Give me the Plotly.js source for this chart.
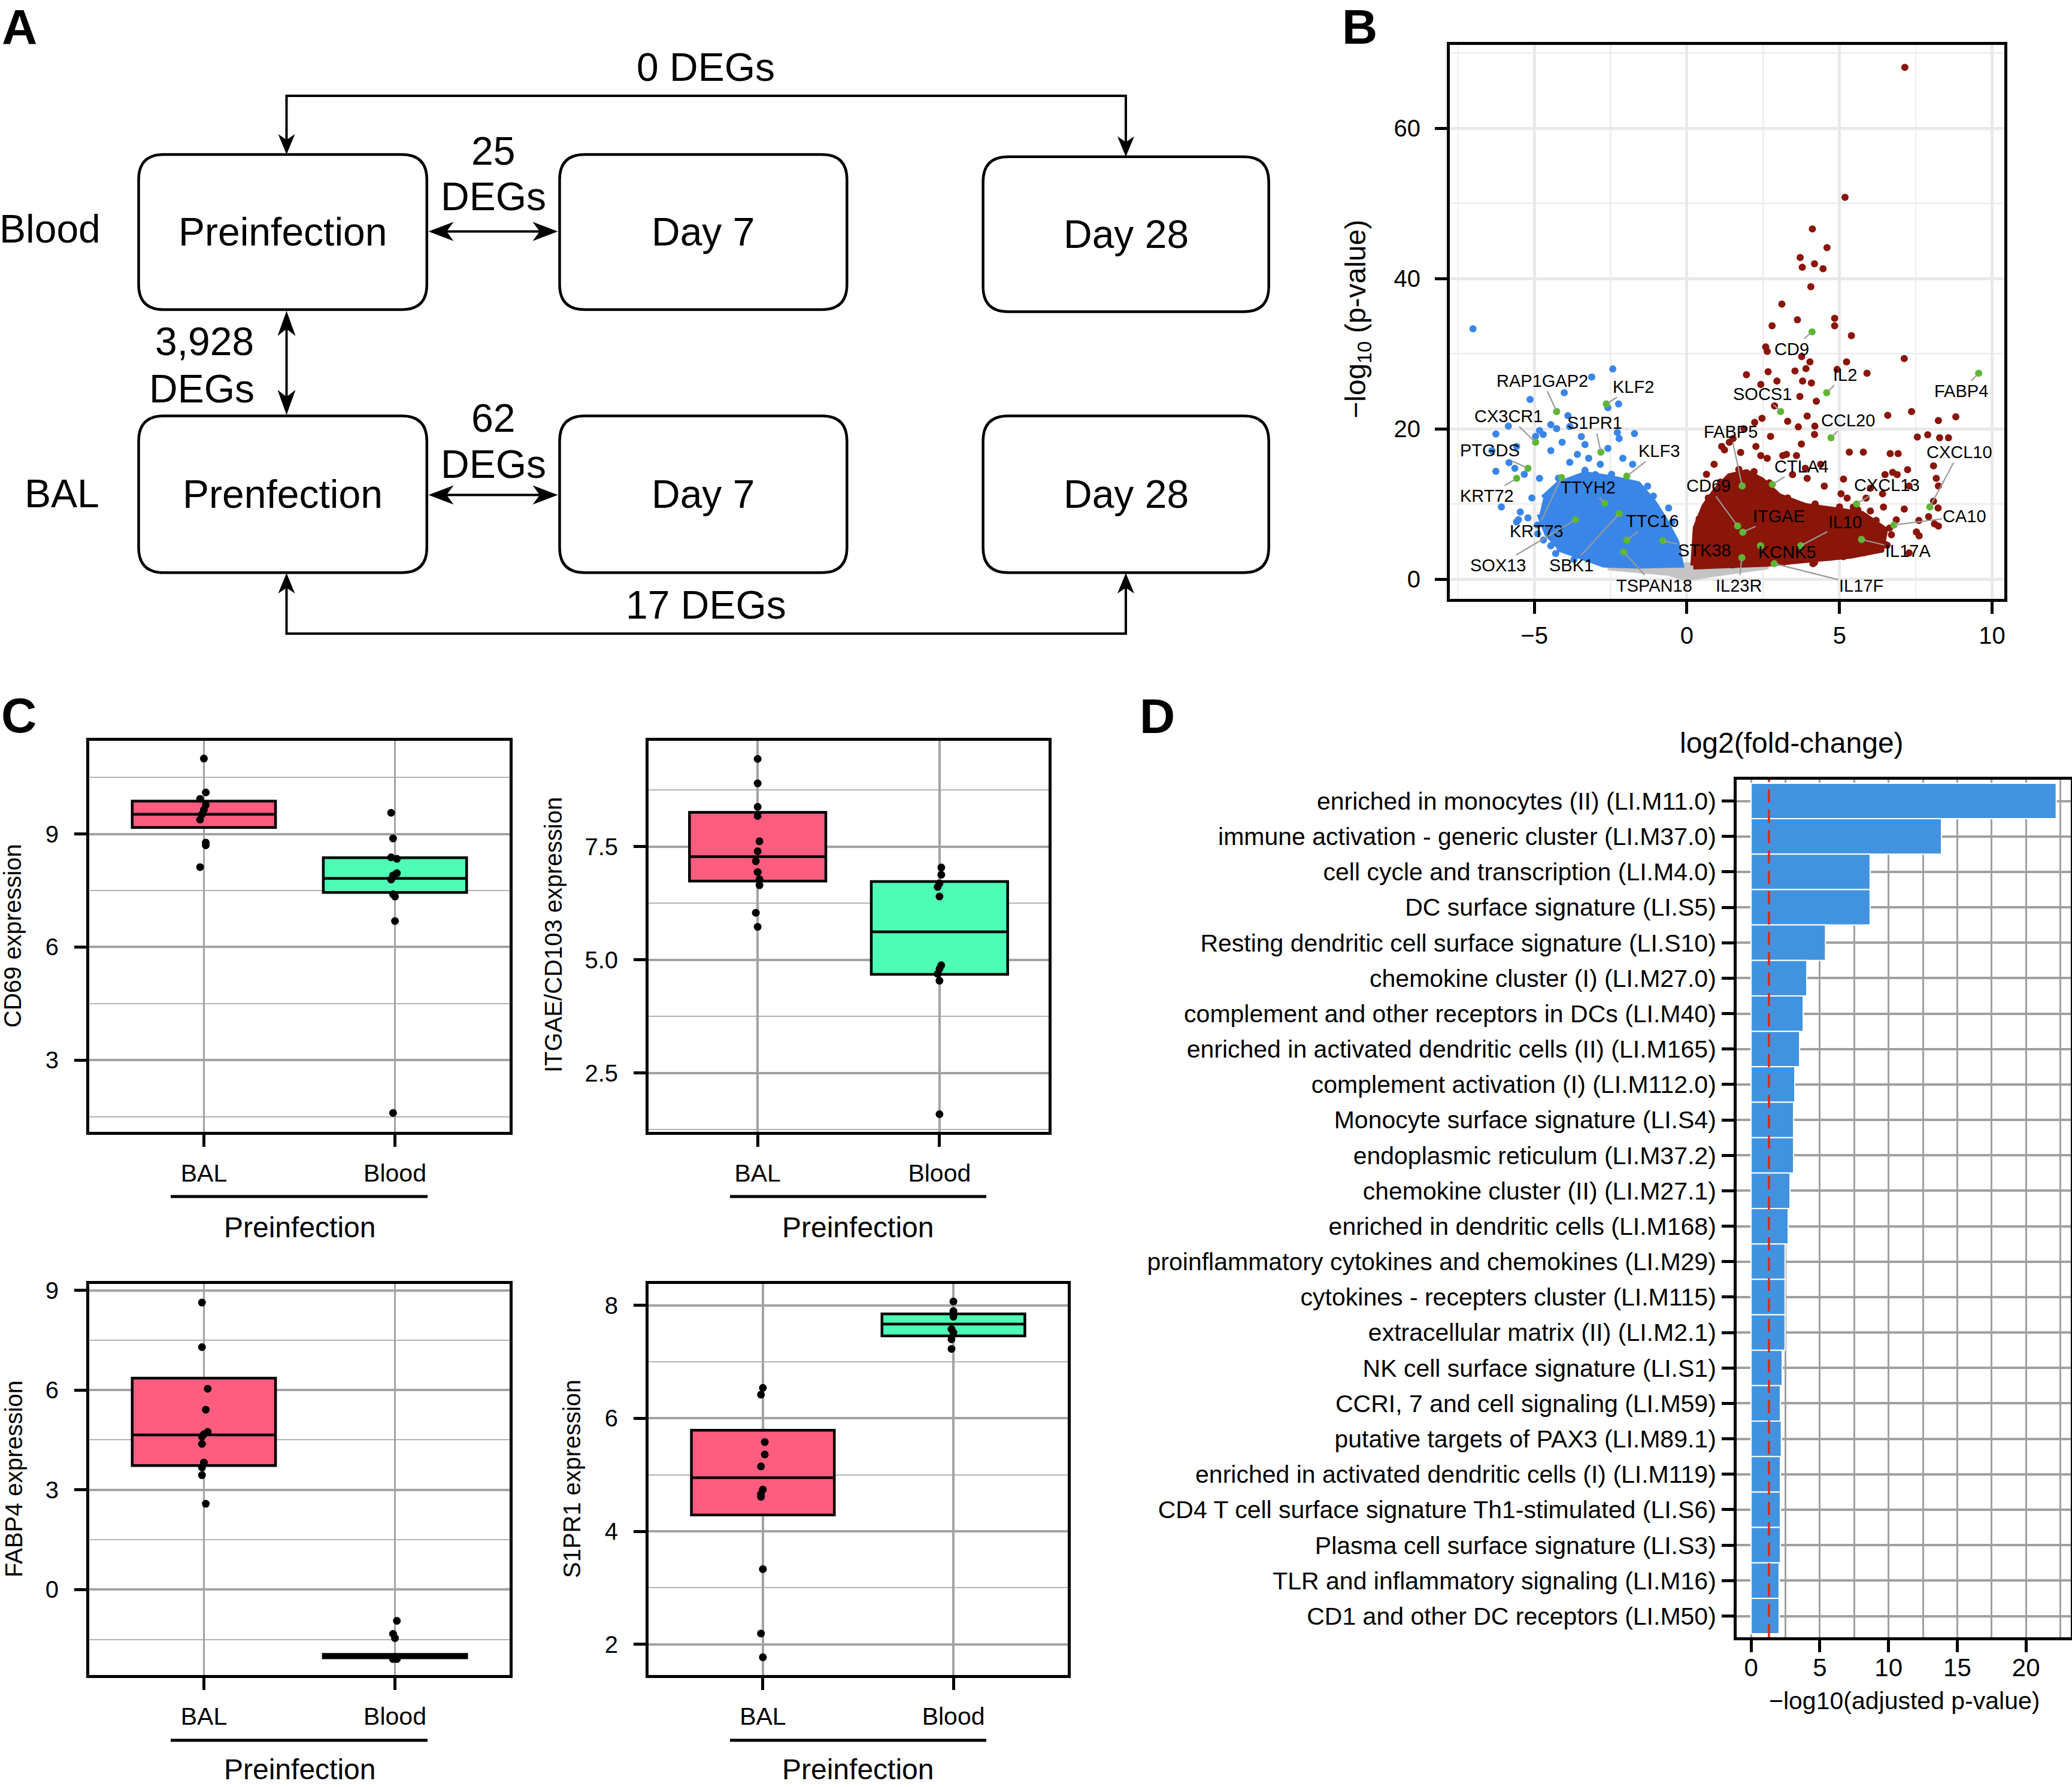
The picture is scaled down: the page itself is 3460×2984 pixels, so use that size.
<!DOCTYPE html>
<html><head><meta charset="utf-8">
<script src="https://cdn.plot.ly/plotly-3.0.1.min.js"></script>
<style>html,body{margin:0;padding:0;background:#fff}#chart{width:3460px;height:2984px}</style>
</head><body><div id="chart"></div>
<script>
// ---------------- DATA ----------------
// Panel A (flow diagram)
const rowLabels = ['Blood', 'BAL'];
const boxTexts = ['Preinfection', 'Day 7', 'Day 28', 'Prenfection', 'Day 7', 'Day 28'];
const degTop = '0 DEGs';
const degBlood = ['25', 'DEGs'];
const degBetween = ['3,928', 'DEGs'];
const degBal = ['62', 'DEGs'];
const degBottom = '17 DEGs';

// Panel B (volcano): log2 fold change (x) and -log10 p (y)
const blueX = [-7.01,-2.43,-3.12,-4.02,-5.14,-2.24,-2.59,-3.90,-4.46,-5.85,-6.26,-4.83,-4.71,-4.96,-4.27,-3.84,-3.46,-2.28,-2.22,-1.72,-2.59,-3.34,-4.09,-4.46,-3.59,-5.58,-6.39,-5.83,-6.26,-5.64,-5.33,-4.83,-6.08,-5.21,-5.52,-4.46,-4.15,-5.46,-5.08,-4.46,-3.22,-3.84,-2.84,-2.10,-1.78,-2.47,-1.66,-1.29,-1.10,-0.60,-0.48,-3.34,-3.65,-4.21,-2.84,-3.22,-4.52,-4.89,-5.58,
  -4.3,-3.9,-3.0,-2.1,-1.5,-1.0,-0.7,-0.4,-4.6,-4.9,-4.7,-4.3,-3.7,-3.2,-2.6,-1.9];
const blueY = [33.3,27.96,26.9,24.8,23.9,23.3,22.8,21.75,20.56,20.35,19.3,19.77,19.24,18.98,20.03,20.3,18.97,19.5,18.7,19.37,17.4,17.9,18.2,17.1,16.6,17.65,17.1,15.5,14.35,14.75,13.95,13.4,9.6,8.14,7.9,4.44,4.04,8.93,10.8,11.3,16.07,15.54,15.28,16.07,15.28,13.95,12.37,12.37,11.05,9.46,7.61,14.48,12.9,13.42,13.42,11.58,7.35,6.03,7.61,
  12.0,13.0,13.9,13.0,11.5,9.5,7.0,4.0,9.8,7.2,5.2,3.4,2.6,10.5,11.9,10.2];
const blueCoreX = [-4.71,-4.21,-3.34,-2.47,-1.60,-1.10,-0.73,-0.35,-0.20,-1.60,-2.72,-3.34,-4.09,-4.58,-4.83];
const blueCoreY = [10.78,12.63,13.95,13.42,12.63,10.25,7.88,4.97,1.93,1.80,1.93,2.85,3.91,6.03,8.67];
const redX = [7.14,5.18,4.11,4.59,3.71,4.18,3.78,4.46,4.06,3.11,4.84,3.62,4.84,2.79,5.39,2.58,2.63,3.76,4.03,7.12,5.23,4.92,5.90,3.54,3.90,2.66,1.95,2.95,3.79,4.08,2.42,4.24,7.36,6.58,3.94,8.24,8.81,4.19,3.65,2.46,2.22,3.30,2.87,3.70,7.55,7.89,8.28,8.57,5.32,5.78,6.66,6.92,7.23,8.08,8.17,8.24,8.08,7.60,8.24,7.92,6.49,6.89,6.01,6.41,7.12,6.01,5.05,4.41,3.94,3.46,3.14,2.42,3.75,4.18,1.39,1.23,1.87,2.74,3.59,5.13,7.28,5.45,6.44,6.64,7.52,6.56,7.28,5.13,4.18,5.87,6.74,4.50,5.25,7.61,6.86,8.11,8.23,6.12,5.12,4.13,1.14,1.51,1.76,2.26,2.63,3.26,3.88,4.38,0.89,0.64,
  0.3,0.4,0.7,1.1,1.7,2.2,2.7,3.3,4.2,5.0,5.6,6.2,6.7,6.5,5.8,4.7,3.2,1.5];
const redY = [68.1,50.8,46.6,44.1,42.8,41.95,41.5,41.3,38.9,36.6,34.7,34.5,33.7,33.7,32.4,30.9,30.3,29.6,28.9,29.35,28.9,27.9,27.4,27.7,28.0,27.6,27.2,26.35,26.35,26.1,25.9,23.66,22.3,21.8,21.7,21.1,21.6,20.35,20.25,21.4,20.86,21.0,23.05,24.3,18.9,19.2,18.8,18.8,16.9,16.9,16.7,16.7,14.56,15.07,13.4,12.4,10.35,7.8,7.05,8.3,13.9,13.9,12.1,11.36,9.33,9.07,11.36,8.82,13.4,13.9,16.44,16.44,17.97,19.24,18.2,17.2,20.0,18.98,16.44,13.3,12.4,9.58,9.58,6.79,6.28,4.5,3.48,2.98,2.21,10.78,14.2,12.37,10.78,5.76,7.88,7.35,9.46,4.18,3.65,2.06,17.65,18.71,16.86,17.65,16.07,16.6,14.75,15.28,15.28,13.95,
  4.5,8.0,10.8,12.9,14.6,14.3,12.8,10.8,10.0,9.6,9.2,7.8,5.9,4.6,3.5,2.9,2.3,1.9];
const redCoreX = [0.21,0.29,0.58,0.95,1.39,1.95,2.45,3.01,3.88,4.75,5.74,6.49,6.37,5.37,3.88,2.63,0.21];
const redCoreY = [1.80,6.82,9.73,11.84,13.69,14.22,13.16,11.05,9.73,9.2,8.67,6.55,3.91,3.12,2.59,2.06,1.67];
const grayX = [-2.6,-0.2,0.2,2.6,2.6,0.6,0.0,-0.6,-2.6];
const grayY = [1.9,2.0,1.9,2.3,1.6,0.45,0.0,0.75,1.5];
const genes = ['RAP1GAP2','KLF2','CX3CR1','S1PR1','PTGDS','KLF3','KRT72','TTYH2','KRT73','TTC16','SOX13','SBK1','STK38','TSPAN18','IL23R','IL17F','KCNK5','ITGAE','IL10','IL17A','CA10','CXCL13','CXCL10','CTLA4','CD69','FABP5','CCL20','FABP4','SOCS1','IL2','CD9'];
const geneX = [-4.27,-2.64,-4.96,-2.82,-5.21,-1.97,-5.58,-2.69,-4.11,-1.97,-3.65,-2.22,-0.79,-2.07,1.80,2.86,2.41,1.83,3.73,5.72,6.78,5.56,7.96,2.80,1.66,1.81,4.72,9.56,3.07,4.58,4.10];
const geneY = [22.3,23.3,18.2,16.9,14.75,13.7,13.4,10.1,13.5,5.2,7.9,8.7,5.1,3.6,2.85,2.06,4.44,6.24,4.44,5.28,7.2,10.0,9.6,12.6,7.08,12.4,18.8,27.4,22.3,24.8,32.9];
const geneLabelX = [-4.73,-1.75,-5.85,-3.03,-6.45,-0.91,-6.55,-3.24,-4.93,-1.12,-6.18,-3.78,0.58,-1.07,1.70,5.72,3.29,3.01,5.18,7.24,9.10,6.55,8.92,3.75,0.70,1.43,5.28,8.98,2.48,5.18,3.44];
const geneLabelY = [26.4,25.6,21.7,20.8,17.1,17.05,11.05,12.2,6.4,7.75,1.8,1.8,3.86,-0.85,-0.85,-0.85,3.59,8.4,7.56,3.78,8.4,12.5,16.9,15.0,12.4,19.6,21.1,25.0,24.6,27.2,30.6];

// Panel C (box plots)
const groups = ['BAL', 'Blood'];
const cd69Box = {q1:[9.17,7.45], med:[9.52,7.82], q3:[9.87,8.37]};
const cd69BalY = [11.0,10.1,9.93,9.77,9.64,9.52,9.38,8.77,8.70,8.12];
const cd69BalX = [1.0,1.01,0.98,1.01,1.0,0.99,0.98,1.01,1.01,0.98];
const cd69BloodY = [9.56,8.88,8.38,8.34,7.96,7.90,7.79,7.40,7.34,6.69,1.60];
const cd69BloodX = [1.98,1.99,1.98,2.01,2.01,1.99,1.98,1.99,2.0,2.0,1.99];
const itgaeBox = {q1:[6.74,4.68], med:[7.28,5.62], q3:[8.26,6.73]};
const itgaeBalY = [9.44,8.90,8.38,8.18,7.62,7.40,7.18,6.94,6.78,6.65,6.04,5.73];
const itgaeBalX = [1.0,1.0,1.0,1.0,1.01,1.0,0.99,1.0,1.01,1.01,0.99,1.0];
const itgaeBloodY = [7.04,6.88,6.69,6.61,6.40,4.88,4.80,4.69,4.54,1.59];
const itgaeBloodX = [2.01,2.01,2.0,1.99,2.0,2.01,2.0,1.99,2.0,2.0];
const fabp4Box = {q1:[3.73,-2.05], med:[4.65,-2.0], q3:[6.36,-1.95]};
const fabp4BalY = [8.63,7.29,6.04,5.41,4.74,4.67,4.60,4.38,3.82,3.67,3.44,2.58];
const fabp4BalX = [0.99,0.99,1.02,1.01,1.02,1.0,0.99,0.99,1.0,0.99,0.99,1.01];
const fabp4BloodY = [-0.94,-1.33,-1.46,-2.09,-2.09,-2.06,-2.03];
const fabp4BloodX = [2.01,1.99,2.0,1.99,2.01,2.0,2.0];
const s1pr1Box = {q1:[4.29,7.46], med:[4.95,7.67], q3:[5.79,7.85]};
const s1pr1BalY = [6.54,6.42,5.58,5.36,5.15,4.74,4.66,4.61,3.33,2.19,1.77];
const s1pr1BalX = [1.0,0.99,1.01,1.01,0.99,1.0,0.99,0.99,1.0,0.99,1.0];
const s1pr1BloodY = [8.07,7.90,7.80,7.58,7.52,7.40,7.23];
const s1pr1BloodX = [2.0,2.0,2.0,1.99,2.0,1.99,1.99];

// Panel D (modules)
const modules = ['enriched in monocytes (II) (LI.M11.0)','immune activation - generic cluster (LI.M37.0)','cell cycle and transcription (LI.M4.0)','DC surface signature (LI.S5)','Resting dendritic cell surface signature (LI.S10)','chemokine cluster (I) (LI.M27.0)','complement and other receptors in DCs (LI.M40)','enriched in activated dendritic cells (II) (LI.M165)','complement activation (I) (LI.M112.0)','Monocyte surface signature (LI.S4)','endoplasmic reticulum (LI.M37.2)','chemokine cluster (II) (LI.M27.1)','enriched in dendritic cells (LI.M168)','proinflammatory cytokines and chemokines (LI.M29)','cytokines - recepters cluster (LI.M115)','extracellular matrix (II) (LI.M2.1)','NK cell surface signature (LI.S1)','CCRI, 7 and cell signaling (LI.M59)','putative targets of PAX3 (LI.M89.1)','enriched in activated dendritic cells (I) (LI.M119)','CD4 T cell surface signature Th1-stimulated (LI.S6)','Plasma cell surface signature (LI.S3)','TLR and inflammatory signaling (LI.M16)','CD1 and other DC receptors (LI.M50)'];
const moduleScore = [22.2,13.85,8.66,8.66,5.41,4.05,3.79,3.53,3.18,3.09,3.09,2.83,2.70,2.47,2.47,2.47,2.26,2.13,2.20,2.13,2.13,2.13,2.04,2.04];
const sigThreshold = 1.3;

// ---------------- LAYOUT HELPERS ----------------
const W = 3460, H = 2984;
const FONT = 'Liberation Sans, Arial, Helvetica, sans-serif';
const fx = x => x / W, fy = y => 1 - y / H;
const domX = (a, b) => [a / W, b / W];
const domY = (t, b) => [1 - b / H, 1 - t / H];
const P = (x, y) => fx(x).toFixed(5) + ',' + fy(y).toFixed(5);
function rrect(x0, y0, x1, y1, r) {
  return 'M' + P(x0 + r, y0) + ' L' + P(x1 - r, y0) + ' Q' + P(x1, y0) + ' ' + P(x1, y0 + r) +
    ' L' + P(x1, y1 - r) + ' Q' + P(x1, y1) + ' ' + P(x1 - r, y1) + ' L' + P(x0 + r, y1) +
    ' Q' + P(x0, y1) + ' ' + P(x0, y1 - r) + ' L' + P(x0, y0 + r) + ' Q' + P(x0, y0) + ' ' + P(x0 + r, y0) + ' Z';
}
function head(tx, ty, dx, dy, L, w) {
  const bx = tx - dx * L, by = ty - dy * L, nx = tx - dx * L * 0.72, ny = ty - dy * L * 0.72;
  const px = -dy, py = dx;
  return 'M' + P(tx, ty) + ' L' + P(bx + px * w, by + py * w) + ' L' + P(nx, ny) + ' L' + P(bx - px * w, by - py * w) + ' Z';
}
function pathShape(d, fill, lw) {
  return {type: 'path', xref: 'paper', yref: 'paper', path: d, fillcolor: fill || 'rgba(0,0,0,0)',
    line: {color: '#000', width: lw === undefined ? 4 : lw}, layer: 'above'};
}
function lineShape(x0, y0, x1, y1, w) {
  return {type: 'line', xref: 'paper', yref: 'paper', x0: fx(x0), y0: fy(y0), x1: fx(x1), y1: fy(y1),
    line: {color: '#000', width: w || 4}, layer: 'above'};
}
function txt(x, y, t, size, extra) {
  return Object.assign({xref: 'paper', yref: 'paper', x: fx(x), y: fy(y), text: t, showarrow: false,
    xanchor: 'center', yanchor: 'middle', font: {family: FONT, size: size, color: '#000'}}, extra || {});
}

// ---------------- SHAPES / ANNOTATIONS ----------------
const shapes = [];
const annotations = [];
const boxGeom = [[231.5,258,712.8,517],[934.5,258,1414.3,517],[1641.6,261.7,2118.7,520.5],
                 [231.5,694.5,712.8,956.2],[934.5,694.5,1414.3,956.2],[1641.6,694.5,2118.7,956.2]];
boxGeom.forEach((g, i) => {
  shapes.push(pathShape(rrect(g[0], g[1], g[2], g[3], 42), 'rgba(0,0,0,0)', 4.5));
  annotations.push(txt((g[0] + g[2]) / 2, (g[1] + g[3]) / 2, boxTexts[i], 66));
});
annotations.push(txt(170, 382, rowLabels[0], 66, {xanchor: 'right'}));
annotations.push(txt(168, 824, rowLabels[1], 66, {xanchor: 'right'}));
// connectors
shapes.push(pathShape('M' + P(478.5, 245) + ' L' + P(478.5, 160) + ' L' + P(1880, 160) + ' L' + P(1880, 248), null, 4));
shapes.push(pathShape(head(478.5, 258, 0, 1, 34, 14), '#000', 0));
shapes.push(pathShape(head(1880, 261.7, 0, 1, 34, 14), '#000', 0));
shapes.push(pathShape('M' + P(478.5, 970) + ' L' + P(478.5, 1058) + ' L' + P(1880, 1058) + ' L' + P(1880, 970), null, 4));
shapes.push(pathShape(head(478.5, 957, 0, -1, 34, 14), '#000', 0));
shapes.push(pathShape(head(1880, 957, 0, -1, 34, 14), '#000', 0));
[386.5, 826.4].forEach(y => {
  shapes.push(lineShape(725, y, 922, y, 4));
  shapes.push(pathShape(head(715.5, y, -1, 0, 42, 16), '#000', 0));
  shapes.push(pathShape(head(931.5, y, 1, 0, 42, 16), '#000', 0));
});
shapes.push(lineShape(478.5, 530, 478.5, 682, 4));
shapes.push(pathShape(head(478.5, 519, 0, -1, 42, 15), '#000', 0));
shapes.push(pathShape(head(478.5, 693, 0, 1, 42, 15), '#000', 0));
annotations.push(txt(1178.6, 112, degTop, 66));
annotations.push(txt(823.6, 252.5, degBlood[0], 66));
annotations.push(txt(823.6, 328.3, degBlood[1], 66));
annotations.push(txt(341, 569.6, degBetween[0], 66));
annotations.push(txt(336.7, 649, degBetween[1], 66));
annotations.push(txt(823.6, 698, degBal[0], 66));
annotations.push(txt(823.6, 775, degBal[1], 66));
annotations.push(txt(1178.6, 1010, degBottom, 66));

// panel letters
[['A', 32, 44], ['B', 2270, 44], ['C', 31, 1194], ['D', 1932, 1195]].forEach(l =>
  annotations.push(txt(l[1], l[2], '<b>' + l[0] + '</b>', 82)));

// axis titles
annotations.push(txt(2267, 533, '\u2212log<sub>10</sub> (p-value)', 48, {textangle: -90}));
annotations.push(txt(21, 1563, 'CD69 expression', 40, {textangle: -90}));
annotations.push(txt(924, 1561, 'ITGAE/CD103 expression', 40, {textangle: -90}));
annotations.push(txt(23, 2470, 'FABP4 expression', 40, {textangle: -90}));
annotations.push(txt(955, 2470, 'S1PR1 expression', 40, {textangle: -90}));
[[500, 2049, 285, 714, 1998], [1432, 2049, 1219, 1647, 1998], [500, 2954, 285, 714, 2906], [1432, 2954, 1219, 1647, 2906]].forEach(p => {
  annotations.push(txt(p[0], p[1], 'Preinfection', 48));
  shapes.push(lineShape(p[2], p[4], p[3], p[4], 5));
});
annotations.push(txt(2992, 1240, 'log2(fold-change)', 48));
annotations.push(txt(3180, 2840, '\u2212log10(adjusted p-value)', 41));

// volcano gene labels
genes.forEach((g, i) => {
  annotations.push({xref: 'x', yref: 'y', axref: 'x', ayref: 'y', x: geneX[i], y: geneY[i],
    ax: geneLabelX[i], ay: geneLabelY[i], text: g, showarrow: true, arrowhead: 0, arrowwidth: 2.2,
    arrowcolor: '#9a9a9a', standoff: 2, font: {family: FONT, size: 29, color: '#000'}});
});

// significance line in D
shapes.push({type: 'line', xref: 'x6', yref: 'y6 domain', x0: sigThreshold, x1: sigThreshold, y0: 0, y1: 1,
  line: {color: '#e3241b', width: 3.5, dash: '22px,12px'}, layer: 'above'});

// ---------------- TRACES ----------------
const BLUE = '#3a86e8', RED = '#8a1509', GREEN = '#5cb82e', GRAY = '#c4c4c4';
const PINK = '#fe5d7f', AQUA = '#4dfdb5';
const traces = [];
traces.push({type: 'scatter', x: grayX, y: grayY, fill: 'toself', fillcolor: GRAY, mode: 'lines',
  line: {color: GRAY, width: 8}, hoverinfo: 'skip', xaxis: 'x', yaxis: 'y'});
traces.push({type: 'scatter', x: blueCoreX, y: blueCoreY, fill: 'toself', fillcolor: BLUE, mode: 'lines',
  line: {color: BLUE, width: 10}, hoverinfo: 'skip', xaxis: 'x', yaxis: 'y'});
traces.push({type: 'scatter', x: redCoreX, y: redCoreY, fill: 'toself', fillcolor: RED, mode: 'lines',
  line: {color: RED, width: 10}, hoverinfo: 'skip', xaxis: 'x', yaxis: 'y'});
traces.push({type: 'scatter', x: blueX, y: blueY, mode: 'markers', marker: {color: BLUE, size: 12},
  hoverinfo: 'skip', xaxis: 'x', yaxis: 'y'});
traces.push({type: 'scatter', x: redX, y: redY, mode: 'markers', marker: {color: RED, size: 12},
  hoverinfo: 'skip', xaxis: 'x', yaxis: 'y'});
traces.push({type: 'scatter', x: geneX, y: geneY, mode: 'markers', marker: {color: GREEN, size: 12},
  hoverinfo: 'skip', xaxis: 'x', yaxis: 'y'});

function boxes(stats, ax) {
  [0, 1].forEach(i => {
    traces.push({type: 'box', x: [i + 1], q1: [stats.q1[i]], median: [stats.med[i]], q3: [stats.q3[i]],
      lowerfence: [stats.q1[i]], upperfence: [stats.q3[i]], width: 0.75, boxpoints: false,
      fillcolor: i === 0 ? PINK : AQUA, line: {color: '#000', width: 4.5}, whiskerwidth: 0,
      hoverinfo: 'skip', xaxis: 'x' + ax, yaxis: 'y' + ax});
  });
}
function dots(xs, ys, ax) {
  traces.push({type: 'scatter', x: xs, y: ys, mode: 'markers', marker: {color: '#000', size: 13},
    hoverinfo: 'skip', xaxis: 'x' + ax, yaxis: 'y' + ax});
}
boxes(cd69Box, 2); dots(cd69BalX, cd69BalY, 2); dots(cd69BloodX, cd69BloodY, 2);
boxes(itgaeBox, 3); dots(itgaeBalX, itgaeBalY, 3); dots(itgaeBloodX, itgaeBloodY, 3);
boxes(fabp4Box, 4); dots(fabp4BalX, fabp4BalY, 4); dots(fabp4BloodX, fabp4BloodY, 4);
boxes(s1pr1Box, 5); dots(s1pr1BalX, s1pr1BalY, 5); dots(s1pr1BloodX, s1pr1BloodY, 5);

traces.push({type: 'bar', orientation: 'h', x: moduleScore, y: modules, width: 1,
  marker: {color: '#4193e0', line: {color: '#ffffff', width: 2}}, hoverinfo: 'skip', xaxis: 'x6', yaxis: 'y6'});

// ---------------- AXES ----------------
const tf = s => ({family: FONT, size: s, color: '#000'});
function frameAxis(o) {
  return Object.assign({showline: true, mirror: true, linecolor: '#000', linewidth: 5, ticks: 'outside',
    ticklen: 20, tickwidth: 5, tickcolor: '#000', zeroline: false, tickfont: tf(40), fixedrange: true}, o);
}
const cGrid = {showgrid: true, gridcolor: '#a3a3a3', gridwidth: 4};
const cMinor = d => ({dtick: d, showgrid: true, gridcolor: '#b3b3b3', gridwidth: 2, ticks: ''});
function cx(dom) {
  return frameAxis(Object.assign({domain: dom, range: [0.4, 2.6], tickvals: [1, 2], ticktext: groups,
    tickfont: tf(41), ticklabelstandoff: 9}, cGrid, {gridwidth: 3.5}));
}
function cy(dom, range, dtick, fmt) {
  return frameAxis(Object.assign({domain: dom, range: range, dtick: dtick, tick0: 0, tickformat: fmt || '',
    ticklabelstandoff: 18, minor: cMinor(dtick / 2)}, cGrid));
}

const layout = {
  width: W, height: H, margin: {l: 0, r: 0, t: 0, b: 0}, showlegend: false,
  paper_bgcolor: '#fff', plot_bgcolor: '#fff', font: {family: FONT, color: '#000'},
  xaxis: frameAxis({domain: domX(2421, 3347), range: [-7.77, 10.40], dtick: 5, tick0: 0, anchor: 'y',
    showgrid: true, gridcolor: '#e9e9e9', gridwidth: 5, ticklabelstandoff: 2,
    minor: {dtick: 2.5, showgrid: true, gridcolor: '#efefef', gridwidth: 2.5, ticks: ''}}),
  yaxis: frameAxis({domain: domY(75, 1000), range: [-2.63, 71.08], dtick: 20, tick0: 0, anchor: 'x',
    showgrid: true, gridcolor: '#e9e9e9', gridwidth: 5, ticklabelstandoff: 16,
    minor: {dtick: 10, showgrid: true, gridcolor: '#efefef', gridwidth: 2.5, ticks: ''}}),
  xaxis2: Object.assign(cx(domX(149, 851)), {anchor: 'y2'}),
  yaxis2: Object.assign(cy(domY(1237, 1890), [1.10, 11.47], 3), {anchor: 'x2'}),
  xaxis3: Object.assign(cx(domX(1083, 1751)), {anchor: 'y3'}),
  yaxis3: Object.assign(cy(domY(1237, 1890), [1.20, 9.84], 2.5, '.1f'), {anchor: 'x3'}),
  xaxis4: Object.assign(cx(domX(149, 851)), {anchor: 'y4'}),
  yaxis4: Object.assign(cy(domY(2144, 2797), [-2.57, 9.19], 3), {anchor: 'x4'}),
  xaxis5: Object.assign(cx(domX(1083, 1783)), {anchor: 'y5'}),
  yaxis5: Object.assign(cy(domY(2144, 2797), [1.455, 8.38], 2), {anchor: 'x5'}),
  xaxis6: frameAxis({domain: domX(2900, 3458), range: [-1.05, 23.26], dtick: 5, tick0: 0, anchor: 'y6',
    showgrid: true, gridcolor: '#a0a0a0', gridwidth: 3, tickfont: tf(42), ticklabelstandoff: -10,
    minor: {dtick: 2.5, showgrid: true, gridcolor: '#a0a0a0', gridwidth: 3, ticks: ''}}),
  yaxis6: frameAxis({domain: domY(1302, 2734), type: 'category', range: [23.6, -0.6], anchor: 'x6',
    showgrid: true, gridcolor: '#a0a0a0', gridwidth: 4, tickfont: tf(41), ticklabelstandoff: 1}),
  shapes: shapes,
  annotations: annotations
};

Plotly.newPlot('chart', traces, layout, {staticPlot: true, displayModeBar: false});
</script></body></html>
